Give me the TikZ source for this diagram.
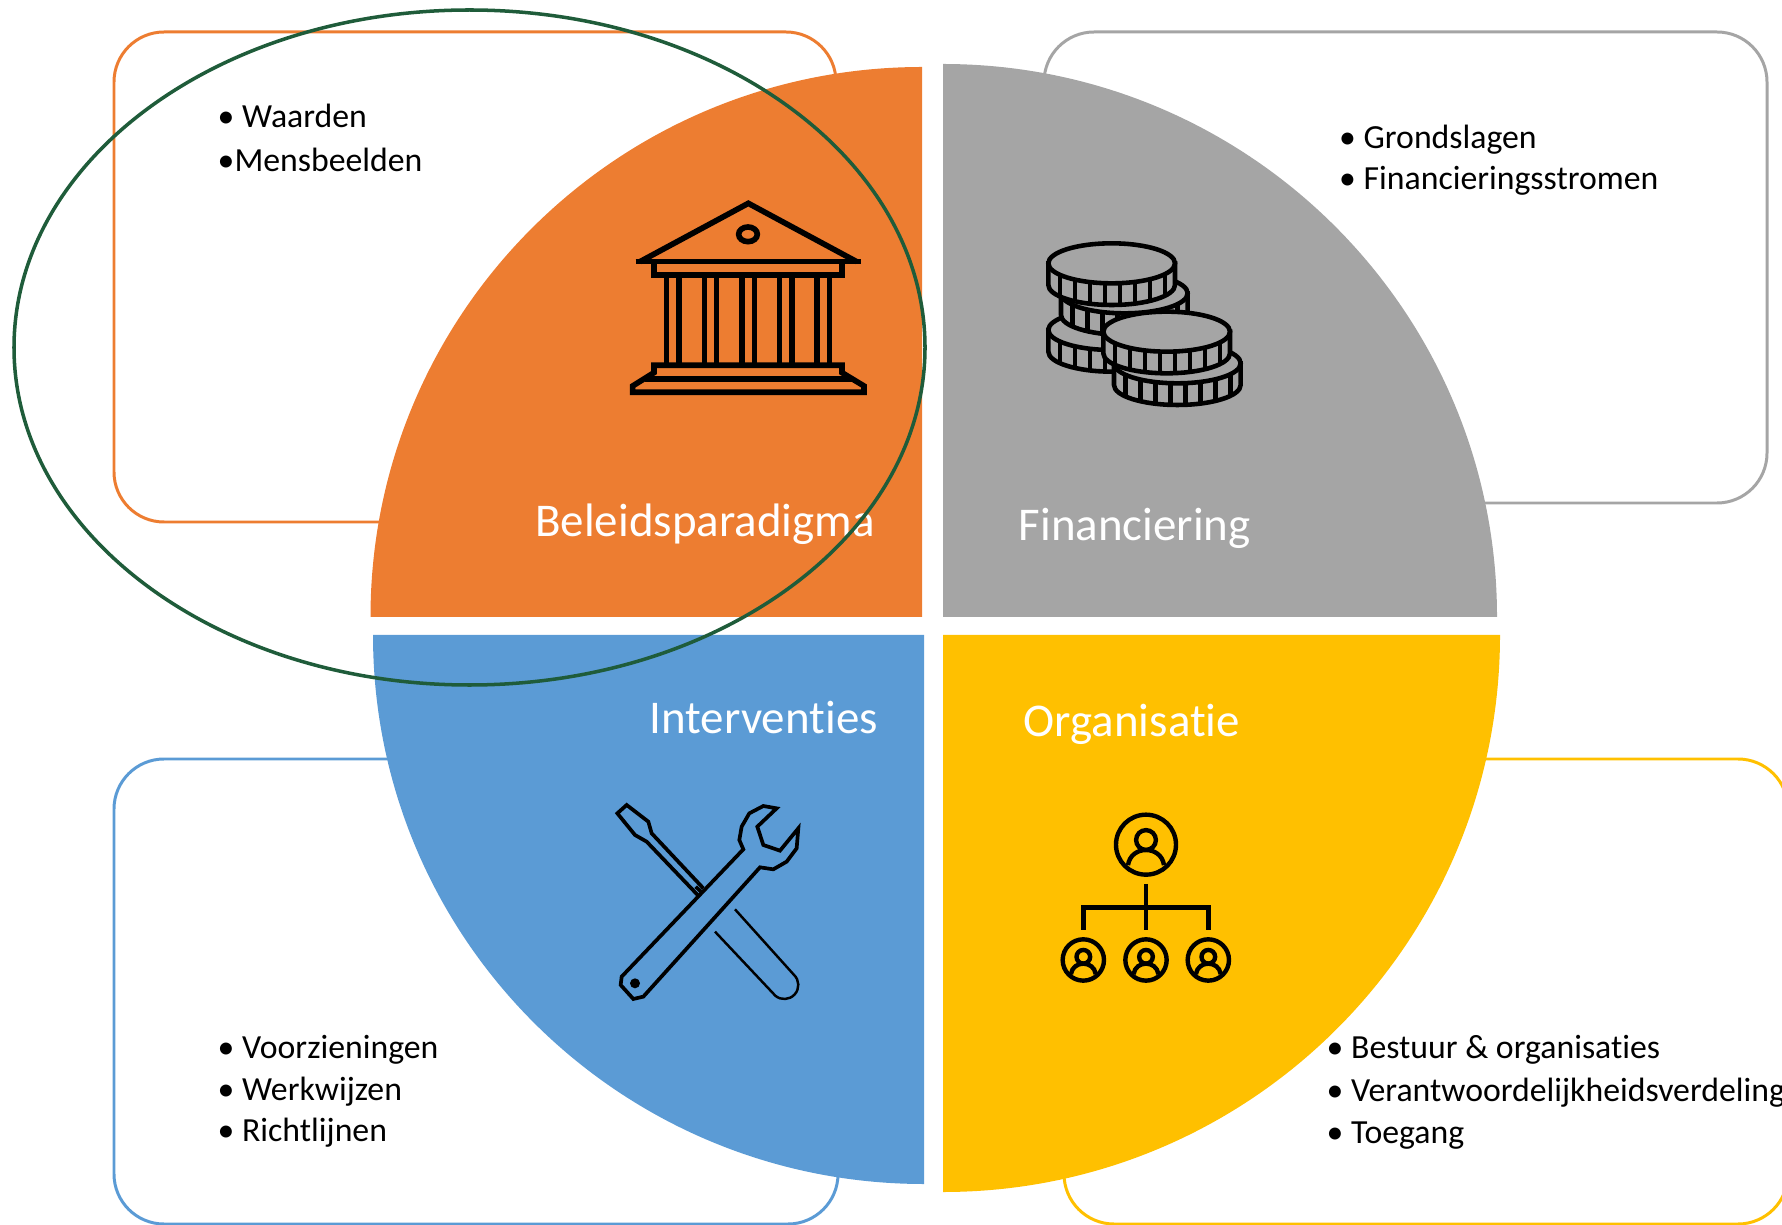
\documentclass[tikz,border=0pt]{standalone}
\usepackage{fontspec}
\setmainfont[Ligatures=NoCommon]{Carlito}
\definecolor{paraorange}{HTML}{ED7D31}
\definecolor{fingray}{HTML}{A5A5A5}
\definecolor{intblue}{HTML}{5B9BD5}
\definecolor{orgyellow}{HTML}{FFC000}
\definecolor{ringgreen}{HTML}{1F5C3A}
\tikzset{
	listbox/.style={line width=0.85pt, rounded corners=0.5cm},
	titletext/.style={anchor=base west, inner sep=0pt, text=white, font=\fontsize{13.35}{16}\selectfont},
	listtext/.style={anchor=north west, inner sep=0pt, align=left, text=black, font=\fontsize{9.6}{11.7}\selectfont},
	iconline/.style={draw=black, line width=1.6pt, line join=miter},
	coinline/.style={draw=black, fill=fingray, line width=1.3pt},
}
\newcommand{\coinicon}[2]{
	\filldraw[coinline] (#1-190,#2) -- ++(0,65) arc[start angle=180, end angle=0, x radius=190, y radius=60] -- ++(0,-65) -- cycle;
	\filldraw[coinline] (#1,#2) ellipse [x radius=190, y radius=60];
	\foreach \dx in {-155,-110,-65,-20,25,70,115,160}{
		\pgfmathsetmacro{\dy}{60*sqrt(1-(\dx/190)^2)}
		\draw[coinline] (#1+\dx,#2+\dy) -- ++(0,65);
	}
}
\newcommand{\personicon}[3]{
	\draw[iconline] (#1,#2) circle [radius=#3];
	\draw[iconline] (#1,#2-0.155*#3) circle [radius=0.33*#3];
	\draw[iconline] (#1-0.6*#3,#2+0.68*#3) .. controls (#1-0.5*#3,#2+0.01*#3) and (#1+0.5*#3,#2+0.01*#3) .. (#1+0.6*#3,#2+0.68*#3);
}

\begin{document}
\begin{tikzpicture}[x=0.01cm,y=-0.01cm]
\clip (0,0) rectangle (1782,1225);
\draw[listbox, draw=paraorange] (114,32) rectangle (836,522);
\draw[listbox, draw=fingray] (1044,32) rectangle (1767,503);
\draw[listbox, draw=intblue] (114,759) rectangle (838,1224);
\draw[listbox, draw=orgyellow] (1064,759) rectangle (1788,1224);

\fill[paraorange] (922,617) -- (370.5,617) arc[start angle=180, end angle=270, x radius=551.5, y radius=550] -- cycle;
\fill[fingray] (943,617) -- (1497,617) arc[start angle=0, end angle=-90, x radius=554, y radius=553] -- cycle;
\fill[intblue] (924,635) -- (373,635) arc[start angle=180, end angle=90, x radius=551, y radius=549] -- cycle;
\fill[orgyellow] (943,635) -- (1500,635) arc[start angle=0, end angle=90, x radius=557, y radius=557] -- cycle;

\node[titletext] (paradigma) at (534.5,537) {Beleidsparadigma};
\node[titletext] (financiering) at (1018,541) {Financiering};
\node[titletext] (interventies) at (649,733.5) {Interventies};
\node[titletext] (organisatie) at (1023,736) {Organisatie};

\node[listtext] (waarden) at (217,103.5) {• Waarden\\[0.7pt]•Mensbeelden};
\node[listtext] (grondslagen) at (1338.5,124) {• Grondslagen\\• Financieringsstromen};
\node[listtext] (voorzieningen) at (217,1035) {• Voorzieningen\\• Werkwijzen\\• Richtlijnen};
\node[listtext] (bestuur) at (1326,1035) {• Bestuur \& organisaties\\[0.3pt]• Verantwoordelijkheidsverdeling\\[0.3pt]• Toegang};

\begin{scope}[shift={(600,180)},scale=0.3333]
	\draw[iconline] (120,245) -- (445,70) -- (770,245);
	\draw[iconline] (107,245) -- (782,245);
	\draw[iconline] (444,163) ellipse [x radius=28, y radius=22];
	\draw[iconline] (162,245) rectangle (726,285);
	\foreach \colx in {200,237,313,350,426,463,538,576,651,688}
		\draw[iconline] (\colx,285) -- (\colx,556);
	\draw[iconline] (162,556) -- (726,556) -- (726,578) -- (792,618) -- (792,637) -- (98,637) -- (98,618) -- (162,578) -- cycle;
	\draw[iconline] (135,597) -- (755,597);
\end{scope}

\begin{scope}[shift={(1020,220)},scale=0.3333]
	\coinicon{275}{330}
	\coinicon{313}{220}
	\coinicon{275}{130}
	\coinicon{472}{430}
	\coinicon{440}{335}
\end{scope}

\begin{scope}[shift={(600,780)},scale=0.3333,iconline/.append style={line width=1.05pt}]
	\draw[iconline] (293,345) -- (140,185) -- (105,165) -- (52,100) -- (80,75) -- (145,125) -- (155,160) -- (310,325);
	\draw[iconline] (287,320) -- (305,337);
	\draw[iconline, line width=0.7pt] (405,388) -- (581.6,584.3) arc[start angle=-47, end angle=129, radius=42] -- (345,455);
	\draw[iconline] (430,208) -- (65,590) -- (62,615) -- (100,657) -- (130,650) -- (480,262) -- (520,268) -- (560,245) -- (590,205) -- (595,145) -- (540,212) -- (490,195) -- (472,140) -- (530,85) -- (490,78) -- (448,100) -- (425,140) -- (418,180) -- cycle;
	\fill[black] (105,610) circle [radius=15];
\end{scope}

\begin{scope}[shift={(1040,800)},scale=0.3333,iconline/.append style={line width=1.25pt}]
	\personicon{318}{134}{90}
	\personicon{130}{480}{62}
	\personicon{318}{480}{62}
	\personicon{505}{480}{62}
	\draw[iconline] (318,252) -- (318,390);
	\draw[iconline] (130,390) -- (130,322) -- (505,322) -- (505,390);
\end{scope}

\draw[ringgreen, line width=1pt] (469.5,347.5) ellipse [x radius=455.5, y radius=337.5];
\end{tikzpicture}
\end{document}
